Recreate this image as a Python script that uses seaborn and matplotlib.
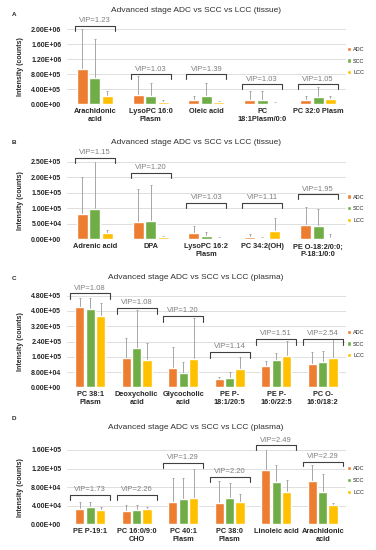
import numpy as np
import pandas as pd
import matplotlib
matplotlib.use('Agg')
import matplotlib.pyplot as plt
import seaborn as sns
from matplotlib.ticker import FormatStrFormatter

sns.set_style('white')
plt.rcParams['font.family'] = ['Liberation Sans', 'DejaVu Sans']

groups = ['ADC', 'SCC', 'LCC']
colors = ['#ED7D31', '#70AD47', '#FFC000']

##### A: tissue
a_cats = ['Arachidonic\nacid', 'LysoPC 16:0\nPlasm', 'Oleic acid', 'PC\n18:1Plasm/0:0', 'PC 32:0 Plasm']
a_adc = [9.4e5, 2.5e5, 1.15e5, 1.25e5, 1.25e5]
a_scc = [6.9e5, 2.2e5, 2.1e5, 1.25e5, 2.0e5]
a_lcc = [2.2e5, 5.0e4, 5.0e4, 3.5e4, 1.4e5]
a_adc_top = [2.02e6, 7.6e5, 2.2e5, 3.5e5, 2.2e5]
a_scc_top = [1.74e6, 5.8e5, 5.6e5, 3.5e5, 4.5e5]
a_lcc_top = [3.6e5, 1.1e5, 8.0e4, 5.5e4, 2.2e5]
a_vip = [1.23, 1.03, 1.39, 1.03, 1.05]
a_bracket = [2.09e6, 8.0e5, 8.0e5, 5.3e5, 5.3e5]

##### B: tissue
b_cats = ['Adrenic acid', 'DPA', 'LysoPC 16:2\nPlasm', 'PC 34:2(OH)', 'PE O-18:2/0:0;\nP-18:1/0:0']
b_adc = [8.15e4, 5.5e4, 2.15e4, 7.5e3, 4.5e4]
b_scc = [9.65e4, 6.0e4, 1.07e4, 5.4e3, 4.4e4]
b_lcc = [1.9e4, 7.5e3, 4.0e3, 2.7e4, 4.0e3]
b_adc_top = [2.0e5, 1.61e5, 4.4e4, 1.7e4, 1.04e5]
b_scc_top = [2.55e5, 1.74e5, 2.2e4, 8.6e3, 9.9e4]
b_lcc_top = [3.0e4, 1.2e4, 6.5e3, 7.0e4, 1.6e4]
b_vip = [1.15, 1.20, 1.03, 1.11, 1.95]
b_bracket = [2.63e5, 2.15e5, 1.18e5, 1.18e5, 1.45e5]

##### C: plasma
c_cats = ['PC 38:1\nPlasm', 'Deoxycholic\nacid', 'Glycocholic\nacid', 'PE P-\n18:1/20:5', 'PE P-\n16:0/22:5', 'PC O-\n16:0/18:2']
c_adc = [4.22e5, 1.55e5, 9.9e4, 4.4e4, 1.1e5, 1.24e5]
c_scc = [4.08e5, 2.04e5, 7.7e4, 5.1e4, 1.41e5, 1.33e5]
c_lcc = [3.73e5, 1.43e5, 1.47e5, 9.4e4, 1.66e5, 1.55e5]
c_adc_top = [4.69e5, 2.57e5, 2.11e5, 5.6e4, 1.4e5, 1.87e5]
c_scc_top = [4.66e5, 4.03e5, 1.33e5, 7.9e4, 1.8e5, 1.9e5]
c_lcc_top = [4.42e5, 2.3e5, 3.61e5, 1.59e5, 2.41e5, 2.55e5]
c_vip = [1.08, 1.08, 1.20, 1.14, 1.51, 2.54]
c_bracket = [4.92e5, 4.15e5, 3.73e5, 1.85e5, 2.55e5, 2.55e5]

##### D: plasma
d_cats = ['PE P-19:1', 'PC 16:0/9:0\nCHO', 'PC 40:1\nPlasm', 'PC 38:0\nPlasm', 'Linoleic acid', 'Arachidonic\nacid']
d_adc = [3.3e4, 2.94e4, 4.88e4, 4.5e4, 1.18e5, 9.25e4]
d_scc = [3.66e4, 3.15e4, 5.38e4, 5.6e4, 9.2e4, 7.0e4]
d_lcc = [3.15e4, 3.37e4, 5.6e4, 4.9e4, 6.9e4, 4.2e4]
d_adc_top = [4.7e4, 4.1e4, 9.9e4, 9.4e4, 1.66e5, 1.28e5]
d_scc_top = [4.7e4, 4.16e4, 1.0e5, 9.0e4, 1.28e5, 1.08e5]
d_lcc_top = [3.66e4, 3.8e4, 1.2e5, 6.6e4, 9.5e4, 4.6e4]
d_vip = [1.73, 2.26, 1.29, 2.20, 2.49, 2.29]
d_bracket = [6.3e4, 6.3e4, 1.32e5, 1.02e5, 1.70e5, 1.35e5]


def plot_panel(ax, cats, means, tops, vip, bracket, ymax, ystep, legend_y):
    n = len(cats)
    df = pd.DataFrame({'cat': cats * 3,
                       'group': np.repeat(groups, n),
                       'val': means[0] + means[1] + means[2]})
    sns.barplot(data=df, x='cat', y='val', hue='group', order=cats, hue_order=groups,
                palette=colors, saturation=1, errorbar=None, width=0.67, gap=0.12, ax=ax)
    # upper error bars only
    for cont, top in zip(ax.containers, tops):
        for bar, t in zip(cont, top):
            x = bar.get_x() + bar.get_width() / 2
            h = bar.get_height()
            ax.errorbar(x, h, yerr=[[0], [t - h]], fmt='none', ecolor='#A6A6A6',
                        elinewidth=0.7, capsize=1, capthick=0.7, zorder=0.9)
    # VIP brackets
    hw = n / 14
    tick = 0.065 * ymax
    for i, (v, by) in enumerate(zip(vip, bracket)):
        ax.plot([i - hw, i - hw, i + hw, i + hw], [by - tick, by, by, by - tick],
                color='#404040', lw=0.8, clip_on=False)
        ax.annotate('VIP=%.2f' % v, (i, by), xytext=(0, 1.2), textcoords='offset points',
                    ha='center', va='bottom', fontsize=5.5, color='#7F7F7F',
                    annotation_clip=False)
    ax.set_xlim(-0.5, n - 0.5)
    ax.set_ylim(0, ymax)
    ax.set_yticks(np.arange(0, ymax + ystep / 2, ystep))
    ax.yaxis.set_major_formatter(FormatStrFormatter('%.2E'))
    ax.set_axisbelow(True)
    ax.yaxis.grid(True, color='#D9D9D9', lw=0.6)
    sns.despine(ax=ax, left=True, bottom=True)
    ax.tick_params(axis='both', length=0)
    ax.tick_params(axis='y', pad=4, labelsize=5)
    ax.tick_params(axis='x', pad=3, labelsize=5.3)
    for lab in ax.get_xticklabels() + ax.get_yticklabels():
        lab.set_fontweight('bold')
    for lab in ax.get_xticklabels():
        lab.set_linespacing(1.15)
    ax.set_xlabel('')
    ax.set_ylabel('Intensity (counts)', fontsize=5, fontweight='bold')
    ax.yaxis.set_label_coords(-0.155, 0.5)
    handles, labels = ax.get_legend_handles_labels()
    ax.legend(handles, labels, loc='center left', bbox_to_anchor=(1.0, legend_y),
              frameon=False, fontsize=4, handlelength=0.8, handleheight=0.8,
              handletextpad=0.3, labelspacing=1.2, borderaxespad=0.2, borderpad=0)


fig = plt.figure(figsize=(3.76, 5.5), dpi=100)
H = 550.0
left, width = 0.178, 0.742

panels = [
    ('A', 'Advanced stage ADC vs SCC vs LCC (tissue)', 29.3, 104.3, 14, 10,
     a_cats, [a_adc, a_scc, a_lcc], [a_adc_top, a_scc_top, a_lcc_top], a_vip, a_bracket, 2.0e6, 4.0e5, 0.577),
    ('B', 'Advanced stage ADC vs SCC vs LCC (tissue)', 161.7, 239.3, 143, 142,
     b_cats, [b_adc, b_scc, b_lcc], [b_adc_top, b_scc_top, b_lcc_top], b_vip, b_bracket, 2.5e5, 5.0e4, 0.394),
    ('C', 'Advanced stage ADC vs SCC vs LCC (plasma)', 295.7, 387.3, 278, 277.7,
     c_cats, [c_adc, c_scc, c_lcc], [c_adc_top, c_scc_top, c_lcc_top], c_vip, c_bracket, 4.8e5, 8.0e4, 0.473),
    ('D', 'Advanced stage ADC vs SCC vs LCC (plasma)', 450, 524.3, 419, 427.3,
     d_cats, [d_adc, d_scc, d_lcc], [d_adc_top, d_scc_top, d_lcc_top], d_vip, d_bracket, 1.6e5, 4.0e4, 0.59),
]

for letter, title, top, bottom, ly, ty, cats, means, tops, vip, br, ymax, ystep, legy in panels:
    ax = fig.add_axes([left, 1 - bottom / H, width, (bottom - top) / H])
    plot_panel(ax, cats, means, tops, vip, br, ymax, ystep, legy)
    fig.text(0.52, 1 - ty / H, title, ha='center', va='center', fontsize=6, color='#303030')
    fig.text(12 / 376, 1 - ly / H, letter, ha='left', va='center', fontsize=4.5, fontweight='bold')

fig.savefig('out.png', dpi=100)
